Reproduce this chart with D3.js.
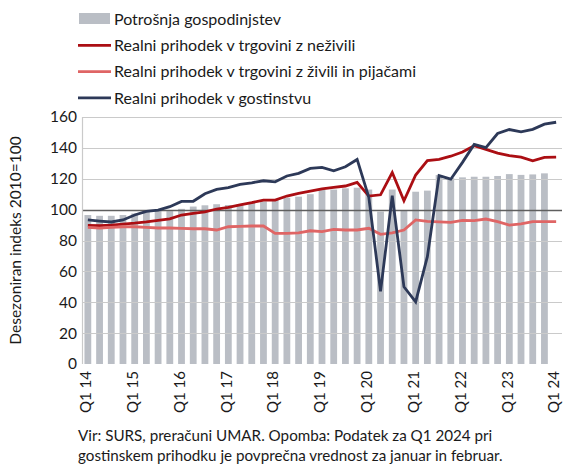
<!DOCTYPE html>
<html>
<head>
<meta charset="utf-8">
<script src="https://cdn.jsdelivr.net/npm/d3@7"></script>
<style>
  body { margin: 0; background: #fff; }
  text { font-family: Lato, "Open Sans", sans-serif; fill: #1a1a1a; }
</style>
</head>
<body>
<div id="chart"></div>
<script>
// Quarters Q1 2014 - Q1 2024
const years = d3.range(14, 25);
const quarters = [];
years.forEach(y => [1, 2, 3, 4].forEach(q => { if (y < 24 || q === 1) quarters.push(`Q${q} ${y}`); }));

// Household consumption (bars), no data for Q1 24
const consumption = [96.5, 96, 96, 96.5, 97.5, 98.5, 99.5, 99, 100.5, 102, 102.8, 103.5, 103, 103.5,
  104.3, 105.3, 106.2, 107.7, 108.4, 110, 112.7, 113, 113.8, 114.2, 113, 98.7, 113, 99.2,
  111.6, 112.3, 122.4, 120.5, 120.9, 121.3, 121.3, 121.8, 123, 122.5, 122.8, 123.5, null];

// Real turnover in retail, non-food
const nonFood = [89.8, 89.6, 90, 90.6, 91.2, 92, 93, 94, 96.5, 97.6, 98.6, 100.4, 101.5, 103,
  104.5, 106.2, 106.2, 108.8, 110.5, 112, 113.5, 114.4, 115.3, 117.6, 108.8, 109.6, 124, 105.7,
  122.4, 131.7, 132.5, 134.6, 137.3, 141.4, 139, 136.6, 135, 134, 131.6, 133.8, 134];

// Real turnover in retail, food, beverages
const food = [88.5, 88, 88.5, 88.9, 88.9, 88.5, 88.1, 88.1, 87.9, 87.6, 87.6, 86.8, 88.9, 89.2,
  89.4, 89.4, 84.6, 84.6, 85, 86.3, 85.7, 87.2, 86.8, 86.8, 87.9, 84, 85, 86.8,
  93.3, 92.4, 92, 91.7, 93, 92.9, 93.9, 92.2, 90, 90.7, 92.2, 92.2, 92.2];

// Real turnover in accommodation and food service
const hospitality = [93.3, 92.6, 92, 93.3, 96.5, 98.8, 99.7, 101.9, 105.3, 105.4, 110.3, 113.1, 114.2, 116.4,
  117.4, 118.7, 118, 121.8, 123.5, 126.7, 127.4, 125.2, 127.8, 132.5, 108, 47, 109, 50,
  40.3, 69.5, 122, 119.7, 130.6, 142.2, 140.1, 149.3, 151.9, 150.4, 152, 155.4, 156.6];

const yTicks = [0, 20, 40, 60, 80, 100, 120, 140, 160];

const series = [
  { name: "Realni prihodek v trgovini z neživili", values: nonFood, color: "#ab0e13" },
  { name: "Realni prihodek v trgovini z živili in pijačami", values: food, color: "#df6565" },
  { name: "Realni prihodek v gostinstvu", values: hospitality, color: "#2d3958" }
];

const width = 563;
const height = 465;
const plot = { left: 82, right: 562, top: 117, bottom: 364 };
const barColor = "#babec5";

const svg = d3.select("#chart")
  .append("svg")
  .attr("width", width)
  .attr("height", height);

const x = d3.scaleBand()
  .domain(quarters)
  .range([plot.left, plot.right])
  .paddingInner(0.42)
  .paddingOuter(0.21);

const y = d3.scaleLinear()
  .domain([0, 160])
  .range([plot.bottom, plot.top]);

const cx = d => x(d) + x.bandwidth() / 2;

// Bars
svg.append("g")
  .selectAll("rect")
  .data(quarters.map((q, i) => ({ q, v: consumption[i] })).filter(d => d.v != null))
  .enter().append("rect")
  .attr("x", d => x(d.q))
  .attr("width", x.bandwidth())
  .attr("y", d => y(d.v))
  .attr("height", d => y(0) - y(d.v))
  .attr("fill", barColor);

// Gridlines
svg.append("g")
  .selectAll("line")
  .data(yTicks.filter(t => t > 0))
  .enter().append("line")
  .attr("x1", plot.left)
  .attr("x2", plot.right)
  .attr("y1", d => Math.round(y(d)) + 0.5)
  .attr("y2", d => Math.round(y(d)) + 0.5)
  .attr("stroke", d => d === 100 ? "#5f5f5f" : "#cacaca")
  .attr("stroke-width", d => d === 100 ? 1.3 : 1.2);

// left border
svg.append("line")
  .attr("x1", plot.left + 0.5).attr("x2", plot.left + 0.5)
  .attr("y1", y(160)).attr("y2", y(0))
  .attr("stroke", "#cacaca")
  .attr("stroke-width", 1.2);

// Lines
const line = d3.line()
  .x((d, i) => cx(quarters[i]))
  .y(d => y(d));

svg.append("g")
  .selectAll("path")
  .data(series)
  .enter().append("path")
  .attr("d", d => line(d.values))
  .attr("fill", "none")
  .attr("stroke", d => d.color)
  .attr("stroke-width", 2.8)
  .attr("stroke-linejoin", "miter");

// Y axis labels
const yAxis = svg.append("g")
  .attr("transform", `translate(${plot.left},0)`)
  .call(d3.axisLeft(y).tickValues(yTicks).tickSize(0).tickPadding(5));
yAxis.select(".domain").remove();
yAxis.selectAll("text")
  .style("font-family", "Lato, sans-serif")
  .style("font-size", "15.5px")
  .attr("fill", "#1a1a1a");

// Y axis title
svg.append("text")
  .attr("transform", `translate(21,${(plot.top + plot.bottom) / 2}) rotate(-90)`)
  .attr("text-anchor", "middle")
  .style("font-size", "15.5px")
  .text("Desezoniran indeks 2010=100");

// X axis labels (every Q1)
svg.append("g")
  .selectAll("text")
  .data(quarters.filter(q => q.startsWith("Q1")))
  .enter().append("text")
  .attr("transform", d => `translate(${cx(d) - 2},${plot.bottom + 7}) rotate(-90)`)
  .attr("text-anchor", "end")
  .attr("dy", "0.35em")
  .style("font-size", "15px")
  .text(d => d);

// Legend
const legend = svg.append("g");
const legendRows = [{ name: "Potrošnja gospodinjstev", bar: true }].concat(series);
legendRows.forEach((d, i) => {
  const ly = 19 + i * 26.3;
  if (d.bar) {
    legend.append("rect")
      .attr("x", 79).attr("y", ly - 6)
      .attr("width", 31).attr("height", 11)
      .attr("fill", barColor);
  } else {
    legend.append("line")
      .attr("x1", 78).attr("x2", 111)
      .attr("y1", ly).attr("y2", ly)
      .attr("stroke", d.color)
      .attr("stroke-width", 2.8);
  }
  legend.append("text")
    .attr("x", 114)
    .attr("y", ly)
    .attr("dy", "0.35em")
    .style("font-size", "16px")
    .text(d.name);
});

// Source note
const note = [
  "Vir: SURS, preračuni UMAR. Opomba: Podatek za Q1 2024 pri",
  "gostinskem prihodku je povprečna vrednost za januar in februar."
];
svg.append("g")
  .selectAll("text")
  .data(note)
  .enter().append("text")
  .attr("x", 78)
  .attr("y", (d, i) => 441 + i * 20)
  .style("font-size", "15.2px")
  .text(d => d);
</script>
</body>
</html>
